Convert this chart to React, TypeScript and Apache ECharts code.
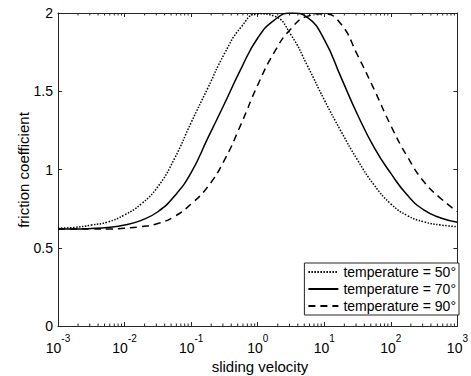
import React, { useEffect, useRef } from "react";
import * as echarts from "echarts";

// log10 of sliding velocity at the sampled points
const exponents = [
  -3, -2.75, -2.5, -2.25, -2, -1.75, -1.5, -1.25, -1, -0.75, -0.5, -0.25, 0,
  0.25, 0.5, 0.75, 1, 1.25, 1.5, 1.75, 2, 2.25, 2.5, 2.75, 3,
];
const velocities = exponents.map((e) => Math.pow(10, e));

const temp50 = [
  0.625, 0.63, 0.645, 0.665, 0.71, 0.78, 0.89, 1.07, 1.3, 1.52, 1.74, 1.91,
  1.995, 1.98, 1.86, 1.66, 1.445, 1.245, 1.06, 0.9, 0.78, 0.705, 0.665, 0.645,
  0.635,
];
const temp70 = [
  0.62, 0.62, 0.623, 0.63, 0.645, 0.675, 0.73, 0.83, 0.98, 1.2, 1.42, 1.645,
  1.84, 1.955, 2.0, 1.97, 1.83, 1.59, 1.35, 1.14, 0.975, 0.835, 0.74, 0.69,
  0.663,
];
const temp90 = [
  0.62, 0.62, 0.62, 0.62, 0.625, 0.635, 0.655, 0.7, 0.78, 0.89, 1.06, 1.29,
  1.54, 1.75, 1.9, 1.98, 1.995, 1.93, 1.73, 1.51, 1.28, 1.08, 0.92, 0.815,
  0.73,
];

const seriesNames = [
  "temperature = 50°",
  "temperature = 70°",
  "temperature = 90°",
];
const xTitle = "sliding velocity";
const yTitle = "friction coefficient";

const decades = [0.001, 0.01, 0.1, 1, 10, 100];
const minorMultipliers = [2, 3, 4, 5, 6, 7, 8, 9];

const FONT = "Liberation Sans, Arial, sans-serif";
const INK = "#262626";

export default function App() {
  const ref = useRef<HTMLDivElement>(null);

  useEffect(() => {
    document.body.style.margin = "0";
    if (!ref.current) return;
    const chart = echarts.init(ref.current, undefined, { renderer: "svg" });

    const pair = (ys: number[]) => velocities.map((v, i) => [v, ys[i]]);
    const minorTicks: number[][] = [];
    decades.forEach((d) =>
      minorMultipliers.forEach((m) => minorTicks.push([d * m, 0]))
    );

    const xLabel = (value: number) => {
      const e = Math.round(Math.log10(value));
      return `{b|10}{s|${e}}`;
    };

    const lineSeries = (name: string, data: number[][], type: any) => ({
      name,
      type: "line",
      data,
      smooth: 0.5,
      symbol: "none",
      showSymbol: false,
      clip: true,
      lineStyle: { color: "#000", width: 1.5, type },
      itemStyle: { color: "#000" },
      z: 3,
    });

    chart.setOption({
      animation: false,
      backgroundColor: "#fff",
      textStyle: { fontFamily: FONT },
      grid: { left: 58, right: 8.5, top: 13, bottom: 50 },
      graphic: [
        {
          type: "text",
          x: 260,
          y: 366,
          style: {
            text: xTitle,
            fontSize: 15,
            fontFamily: FONT,
            fill: "#000",
            align: "center",
            verticalAlign: "middle",
          },
        },
        {
          type: "text",
          x: 23,
          y: 170,
          rotation: Math.PI / 2,
          style: {
            text: yTitle,
            fontSize: 15,
            fontFamily: FONT,
            fill: "#000",
            align: "center",
            verticalAlign: "middle",
          },
        },
      ],
      legend: {
        data: seriesNames,
        orient: "vertical",
        right: 12,
        top: 263,
        backgroundColor: "#fff",
        borderColor: INK,
        borderWidth: 1,
        borderRadius: 0,
        padding: [2, 3, 2, 3],
        itemGap: 3,
        itemWidth: 30,
        itemHeight: 14,
        itemStyle: { opacity: 0 },
        textStyle: { fontSize: 14, color: "#000", fontFamily: FONT },
      },
      xAxis: [
        {
          type: "log",
          logBase: 10,
          min: 0.001,
          max: 1000,
          axisLine: { onZero: false, lineStyle: { color: INK, width: 1 } },
          axisTick: { inside: true, length: 4, lineStyle: { color: INK } },
          splitLine: { show: false },
          axisLabel: {
            formatter: xLabel,
            margin: 7,
            color: "#000",
            rich: {
              b: { fontSize: 14, fontFamily: FONT, color: "#000", lineHeight: 22, verticalAlign: "bottom" },
              s: { fontSize: 10, fontFamily: FONT, color: "#000", lineHeight: 22, verticalAlign: "top" },
            },
          },
        },
        {
          type: "log",
          logBase: 10,
          min: 0.001,
          max: 1000,
          position: "top",
          axisLine: { show: true, onZero: false, lineStyle: { color: INK, width: 1 } },
          axisTick: { show: true, inside: true, length: 4, lineStyle: { color: INK } },
          axisLabel: { show: false },
          splitLine: { show: false },
        },
      ],
      yAxis: [
        {
          type: "value",
          min: 0,
          max: 2,
          interval: 0.5,
          axisLine: { show: true, onZero: false, lineStyle: { color: INK, width: 1 } },
          axisTick: { show: true, inside: true, length: 4, lineStyle: { color: INK } },
          splitLine: { show: false },
          axisLabel: { fontSize: 14, color: "#000", margin: 5, fontFamily: FONT },
        },
        {
          type: "value",
          min: 0,
          max: 2,
          interval: 0.5,
          position: "right",
          axisLine: { show: true, onZero: false, lineStyle: { color: INK, width: 1 } },
          axisTick: { show: true, inside: true, length: 4, lineStyle: { color: INK } },
          axisLabel: { show: false },
          splitLine: { show: false },
        },
      ],
      series: [
        lineSeries(seriesNames[0], pair(temp50), [1.5, 1.5]),
        lineSeries(seriesNames[1], pair(temp70), "solid"),
        lineSeries(seriesNames[2], pair(temp90), [7, 5]),
        {
          type: "custom",
          name: "minorTicks",
          silent: true,
          data: minorTicks,
          renderItem: (_params: any, api: any) => {
            const v = api.value(0);
            const b = api.coord([v, 0]);
            const t = api.coord([v, 2]);
            const style = { stroke: INK, lineWidth: 1 };
            return {
              type: "group",
              children: [
                { type: "line", shape: { x1: b[0], y1: b[1], x2: b[0], y2: b[1] - 2.5 }, style },
                { type: "line", shape: { x1: t[0], y1: t[1], x2: t[0], y2: t[1] + 2.5 }, style },
              ],
            };
          },
          z: 1,
        },
      ],
    });

    return () => chart.dispose();
  }, []);

  return <div ref={ref} style={{ width: 471, height: 376 }} />;
}
